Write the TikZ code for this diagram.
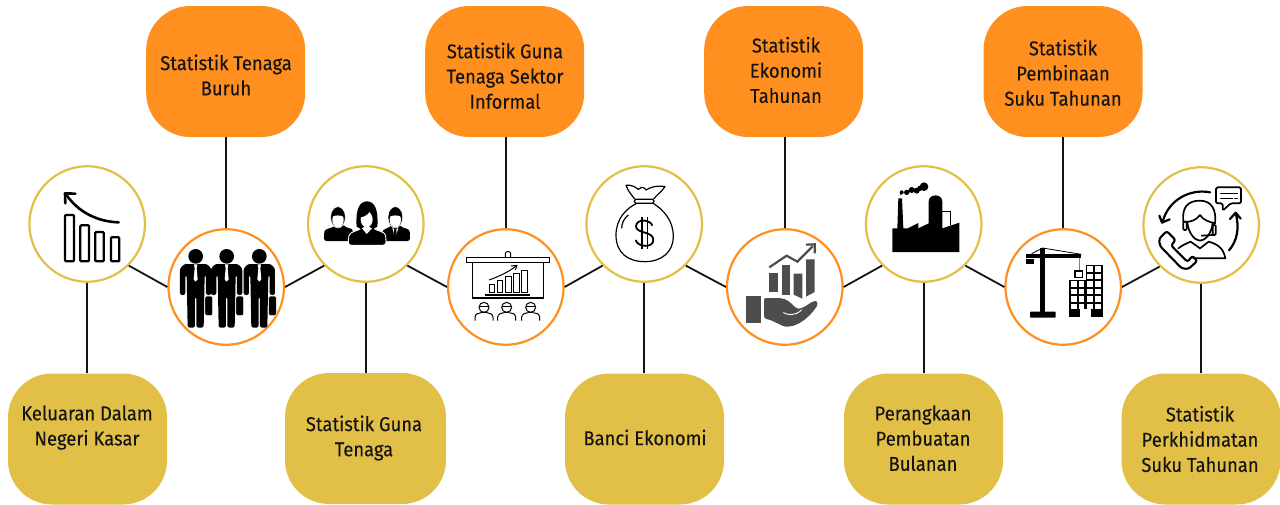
\documentclass[tikz,border=0pt]{standalone}
\usepackage{fontspec}
\setmainfont[FakeStretch=0.92,FakeBold=0.12]{Fira Sans}
\definecolor{orng}{HTML}{FF8F1F}
\definecolor{gld}{HTML}{E2BF47}
\definecolor{greyic}{HTML}{4D4D4D}
\definecolor{ink}{HTML}{141414}
\tikzset{
 topbox/.style={draw=none,fill=orng,rounded corners=44pt,minimum width=159pt,minimum height=131pt,inner sep=0pt},
 botbox/.style={draw=none,fill=gld,rounded corners=44pt,minimum width=159pt,minimum height=131pt,inner sep=0pt},
 goldcirc/.style={circle,draw=gld,fill=white,line width=2.2pt,minimum size=115.5pt,inner sep=0pt},
 orngcirc/.style={circle,draw=orng,fill=white,line width=2.2pt,minimum size=115.5pt,inner sep=0pt},
 lbl/.style={align=center,text=ink,font=\fontsize{20}{25.2}\selectfont,inner sep=0pt},
 conn/.style={draw=ink,line width=1.8pt},
 zoomA/.style={shift={(20,160)},x=0.33333pt,y=-0.33333pt},
 zoomB/.style={shift={(440,160)},x=0.33333pt,y=-0.33333pt},
 zoomC/.style={shift={(860,160)},x=0.33333pt,y=-0.33333pt},
}
\newcommand{\suitman}[1]{%
 \begin{scope}[shift={(#1,0)}]
  \fill (0,289) circle (22);
  \fill[rounded corners=2.2pt] (-47,405) -- (-47,325) -- (-34,312) -- (34,312) -- (47,325) -- (47,405) -- (31,405) -- (31,345) -- (27,345) -- (24,503) -- (2,503) -- (2,410) -- (-2,410) -- (-2,503) -- (-24,503) -- (-27,345) -- (-31,345) -- (-31,405) -- cycle;
  \fill[white] (-5,313) -- (5,313) -- (3,325) -- (6,358) -- (0,365) -- (-6,358) -- (-3,325) -- cycle;
  \fill[draw=white,line width=.5pt,rounded corners=1.5pt] (28,408) rectangle (51,467);
 \end{scope}}
\newcommand{\viewer}[1]{%
 \begin{scope}[shift={(#1,0)},line width=1pt]
  \draw (0,442) circle (15);
  \draw (-15,438) -- (15,438);
  \draw (-27,482) -- (-27,472) .. controls (-27,462) and (-16,458) .. (-8,458);
  \draw (27,482) -- (27,472) .. controls (27,462) and (16,458) .. (8,458);
  \draw (-8,458) -- (8,458);
 \end{scope}}
\begin{document}
\begin{tikzpicture}[x=1pt,y=-1pt]
\useasboundingbox (0,0) rectangle (1280,504);
\node[topbox] (t1) at (225.7,71.5) {};
\node[topbox] (t2) at (504.7,71.5) {};
\node[topbox] (t3) at (783.7,71.5) {};
\node[topbox] (t4) at (1063,71.5) {};
\node[botbox] (b1) at (87.5,439) {};
\node[botbox,minimum width=161pt] (b2) at (365.5,438.5) {};
\node[botbox] (b3) at (644.5,439) {};
\node[botbox] (b4) at (923.5,439) {};
\node[botbox] (b5) at (1201,439) {};
\node[goldcirc] (g1) at (87.2,224) {};
\node[orngcirc] (o1) at (226.2,287) {};
\node[goldcirc] (g2) at (365.8,224) {};
\node[orngcirc] (o2) at (505.8,287) {};
\node[goldcirc] (g3) at (644.2,224) {};
\node[orngcirc] (o3) at (784.8,287) {};
\node[goldcirc] (g4) at (923.7,224) {};
\node[orngcirc] (o4) at (1063.2,287) {};
\node[goldcirc] (g5) at (1201.2,225) {};
\draw[conn] (g1.south) -- (g1.south |- b1.north);
\draw[conn] (g2.south) -- (g2.south |- b2.north);
\draw[conn] (g3.south) -- (g3.south |- b3.north);
\draw[conn] (g4.south) -- (g4.south |- b4.north);
\draw[conn] (g5.south) -- (g5.south |- b5.north);
\draw[conn] (o1.north) -- (o1.north |- t1.south);
\draw[conn] (o2.north) -- (o2.north |- t2.south);
\draw[conn] (o3.north) -- (o3.north |- t3.south);
\draw[conn] (o4.north) -- (o4.north |- t4.south);
\draw[conn] (g1.south east) -- (o1.west);
\draw[conn] (o1.east) -- (g2.south west);
\draw[conn] (g2.south east) -- (o2.west);
\draw[conn] (o2.east) -- (g3.south west);
\draw[conn] (g3.south east) -- (o3.west);
\draw[conn] (o3.east) -- (g4.south west);
\draw[conn] (g4.south east) -- (o4.west);
\draw[conn] (o4.east) -- (g5.south west);
% labels
\node[lbl] (l1) at (226,75) {Statistik Tenaga\\Buruh};
\node[lbl] (l2) at (505,75.8) {Statistik Guna\\Tenaga Sektor\\Informal};
\node[lbl] (l3) at (786,70) {Statistik\\Ekonomi\\Tahunan};
\node[lbl] (l4) at (1063,72.8) {Statistik\\Pembinaan\\Suku Tahunan};
\node[lbl] (l5) at (87,427.5) {Keluaran Dalam\\Negeri Kasar};
\node[lbl] (l6) at (364,438) {Statistik Guna\\Tenaga};
\node[lbl] (l7) at (645,437.5) {Banci Ekonomi};
\node[lbl] (l8) at (923,438.2) {Perangkaan\\Pembuatan\\Bulanan};
\node[lbl] (l9) at (1200,439) {Statistik\\Perkhidmatan\\Suku Tahunan};
% icon: falling bars
\begin{scope}[zoomA]
 \draw[line width=2.3pt,rounded corners=1pt] (135,165) rectangle (162,304) (181,196) rectangle (207,304) (226,216) rectangle (251,304) (273,232) rectangle (298,304);
 \draw[line width=2.6pt,line cap=round] (296,187) .. controls (230,185) and (175,155) .. (140,106);
 \draw[line width=2.6pt,line cap=round,line join=round] (136,130) -- (135,100) -- (166,101);
\end{scope}
% icon: three suited men
\begin{scope}[zoomA]
 \suitman{527}\suitman{620}\suitman{718}
\end{scope}
% icon: team of three
\begin{scope}[zoomA]
 % left man
 \fill[rounded corners=2.5pt] (912,243) -- (912,222) .. controls (915,205) and (935,205) .. (945,195) -- (972,195) .. controls (982,205) and (995,205) .. (1000,215) -- (992,243) -- cycle;
 \fill[draw=white,line width=.5pt] (954,172) ellipse (22 and 32);
 \fill[white] (954,180) ellipse (17 and 23);
 \fill (936,170) .. controls (945,165) and (960,165) .. (972,170) -- (972,155) -- (936,155) -- cycle;
 % right man
 \fill[rounded corners=2.5pt] (1086,215) .. controls (1095,205) and (1105,205) .. (1113,195) -- (1140,195) .. controls (1150,205) and (1168,205) .. (1170,222) -- (1170,243) -- (1095,243) -- cycle;
 \fill[draw=white,line width=.5pt] (1126,172) ellipse (22 and 32);
 \fill[white] (1126,180) ellipse (17 and 23);
 \fill (1108,170) .. controls (1117,165) and (1135,165) .. (1144,170) -- (1144,155) -- (1108,155) -- cycle;
 \fill[white] (1117,203) -- (1126,210) -- (1135,203) -- (1130,222) -- (1122,222) -- cycle;
 \fill (1123,207) -- (1129,207) -- (1130,222) -- (1122,222) -- cycle;
 % woman
 \fill[draw=white,line width=.9pt,rounded corners=3pt] (985,256) -- (985,235) .. controls (990,215) and (1015,212) .. (1028,200) -- (1055,200) .. controls (1070,212) and (1095,215) .. (1098,235) -- (1098,256) -- cycle;
 \fill (1010,200) .. controls (1006,150) and (1018,124) .. (1041,124) .. controls (1064,124) and (1076,150) .. (1072,200) -- (1055,210) -- (1028,210) -- cycle;
 \fill[white] (1040,178) ellipse (18 and 24);
 \fill (1022,172) .. controls (1032,170) and (1045,165) .. (1050,152) -- (1022,150) -- cycle;
 \fill (1050,152) .. controls (1052,160) and (1056,168) .. (1060,172) -- (1060,150) -- cycle;
 \fill[white] (1026,205) -- (1040,222) -- (1056,205) -- (1046,200) -- (1034,200) -- cycle;
\end{scope}
% icon: presentation board
\begin{scope}[zoomB,line width=1pt]
 \draw (196,292) -- (196,280) .. controls (196,273) and (212,273) .. (212,280) -- (212,292);
 \draw[line width=1.2pt] (80,292) rectangle (328,308);
 \draw[line width=1.2pt] (97,308) rectangle (310,414);
 \draw (147,372) rectangle (163,398) (171,360) rectangle (188,398) (196,349) rectangle (213,398) (221,340) rectangle (237,398) (245,332) rectangle (261,398);
 \draw[line width=1.2pt] (136,405) -- (270,405);
 \draw (147,360) .. controls (175,350) and (205,337) .. (228,318);
 \draw[line join=round] (213,318) -- (231,316) -- (226,330);
 \viewer{132}\viewer{200}\viewer{272}
\end{scope}
% icon: money bag
\begin{scope}[zoomB,line width=1.2pt,line join=round]
 \draw (585,118) .. controls (575,105) and (565,95) .. (558,76) .. controls (575,74) and (585,80) .. (595,88) .. controls (605,80) and (612,80) .. (618,90) .. controls (630,82) and (650,75) .. (675,80) .. controls (665,95) and (650,105) .. (640,118);
 \draw[rounded corners=1.5pt] (583,118) rectangle (642,130);
 \draw (590,130) .. controls (560,145) and (528,175) .. (528,225) .. controls (528,280) and (565,305) .. (615,305) .. controls (665,305) and (700,275) .. (700,230) .. controls (700,180) and (670,150) .. (640,130);
 \draw (545,205) .. controls (545,190) and (552,175) .. (565,165);
 \draw[line width=1.5pt] (606,170) -- (606,268) (622,170) -- (622,268);
 \draw[line width=1.8pt] (637,197) .. controls (632,178) and (590,175) .. (588,198) .. controls (587,222) and (640,212) .. (640,240) .. controls (640,265) and (592,262) .. (587,240);
\end{scope}
% icon: hand with growth chart
\begin{scope}[zoomB]
 \fill[greyic] (988,338) rectangle (1014,396);
 \fill[greyic] (1025,316) rectangle (1051,404);
 \fill[greyic] (1061,341) -- (1087,341) -- (1087,416) -- (1061,404) -- cycle;
 \fill[greyic] (1098,298) -- (1124,298) -- (1124,396) -- (1098,410) -- cycle;
 \draw[greyic,line width=2.2pt] (988,322) -- (1040,287) -- (1072,305) -- (1118,259);
 \draw[greyic,line width=2.2pt] (1098,254) -- (1124,253) -- (1124,280);
 \fill[greyic] (918,408) rectangle (964,490);
 \fill[greyic,rounded corners=2pt] (972,414) -- (1015,414) .. controls (1040,416) and (1055,430) .. (1068,445) .. controls (1085,448) and (1105,432) .. (1120,424) .. controls (1132,422) and (1134,434) .. (1128,442) .. controls (1110,468) and (1080,495) .. (1045,500) .. controls (1025,500) and (1000,480) .. (972,476) -- cycle;
 \draw[white,line width=.9pt,line cap=round] (1030,458) .. controls (1045,466) and (1065,468) .. (1085,450);
\end{scope}
% icon: factory
\begin{scope}[zoomC]
 \fill (97,205) -- (112,205) -- (115,115) -- (126,115) -- (130,205) -- (143,205) -- (175,189) -- (175,205) -- (206,190) -- (206,125) .. controls (206,100) and (247,100) .. (247,125) -- (247,205) -- (298,188) -- (298,276) -- (97,276) -- cycle;
 \draw[line width=1pt] (247,155) -- (272,155) -- (272,196);
 \fill (125,97) circle (6) (140,97) circle (8) (155,90) circle (9) (170,92) circle (9) (192,80) circle (13) (180,85) circle (8);
 \draw[line width=.8pt] (122,106) -- (124,95);
\end{scope}
% icon: tower crane and building
\begin{scope}[zoomC]
 \fill (540,265) rectangle (556,456);
 \fill[rounded corners=.7pt] (510,455) rectangle (587,473);
 \fill (497,281) rectangle (664,295);
 \fill (497,298) rectangle (522,312);
 \draw[line width=.8pt] (515,281) -- (548,264) -- (664,283);
 \draw[line width=.6pt,gray] (657,295) -- (657,333);
 \draw[line width=1.2pt] (645,333) rectangle (668,353);
 \fill (627,360) rectangle (680,472);
 \fill (677,314) rectangle (728,472);
 \foreach \cx in {682,705}{\foreach \ry in {319,342,364,387,409,431}{\fill[white] (\cx,\ry) rectangle +(18,16);}}
 \foreach \cx in {633,656}{\foreach \ry in {364,387,409,431}{\fill[white] (\cx,\ry) rectangle +(17,16);}}
 \fill[white] (660,446) rectangle (692,472);
\end{scope}
% icon: call agent
\begin{scope}[zoomC,line width=1.7pt,line join=round,line cap=round]
 \draw[rounded corners=1.5pt] (1068,82) -- (1143,82) -- (1143,130) -- (1112,130) -- (1088,152) -- (1088,130) -- (1068,130) -- cycle;
 \draw[line width=1.2pt] (1082,100) -- (1132,100) (1082,116) -- (1118,116) (1124,116) -- (1132,116);
 \draw (970,185) .. controls (965,140) and (985,122) .. (1020,122) .. controls (1055,122) and (1070,150) .. (1065,190) .. controls (1045,185) and (1030,180) .. (1020,165) .. controls (1010,180) and (990,188) .. (970,185) -- cycle;
 \draw (982,187) .. controls (985,220) and (1005,242) .. (1020,242) .. controls (1035,242) and (1055,222) .. (1058,188);
 \draw[rounded corners=1pt] (970,185) rectangle (980,210);
 \draw[rounded corners=1pt] (1058,195) rectangle (1067,225);
 \draw (1025,227) -- (1058,225);
 \draw (955,265) .. controls (968,255) and (980,250) .. (992,245) -- (1020,265) -- (1046,245) .. controls (1070,252) and (1090,262) .. (1096,295) -- (1000,295);
 \draw[line width=2.1pt,rounded corners=2.5pt] (920,213) -- (947,240) -- (933,256) -- (983,306) -- (997,287) -- (1012,303) -- (985,327) -- (965,325) -- (900,258) -- (897,237) -- cycle;
 \draw[line width=2.2pt] (1050,97) .. controls (990,85) and (925,120) .. (908,185);
 \draw[line width=2.2pt] (898,167) -- (906,188) -- (929,178);
 \draw[line width=2.2pt] (1107,271) .. controls (1130,245) and (1140,205) .. (1127,160);
 \draw[line width=2.2pt] (1110,177) -- (1127,158) -- (1142,176);
\end{scope}
\end{tikzpicture}
\end{document}
